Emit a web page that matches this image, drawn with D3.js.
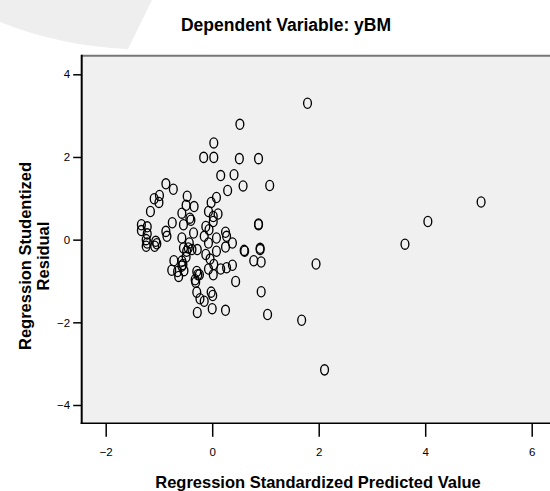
<!DOCTYPE html>
<html>
<head>
<meta charset="utf-8">
<script src="https://cdn.jsdelivr.net/npm/d3@7"></script>
<style>
  html, body { margin: 0; padding: 0; background: #ffffff; }
  svg { display: block; }
  text { font-family: "Liberation Sans", Arial, sans-serif; }
</style>
</head>
<body>
<svg id="chart" width="550" height="491"></svg>
<script>
// ---- data ----
const titleText = "Dependent Variable: yBM";
const xTitle = "Regression Standardized Predicted Value";
const yTitleLines = ["Regression Studentized", "Residual"];
const xTicks = [-2, 0, 2, 4, 6];
const yTicks = [-4, -2, 0, 2, 4];

const predicted = [
  1.79, 0.52, 0.03, -0.16, 0.03, 0.51, 0.87, 0.16, 0.41, 0.29,
  0.58, 1.08, -0.87, -0.73, -1.09, -0.99, -1.00, -1.16, -0.47, -0.49,
  -0.34, -0.57, -0.42, -0.40, -0.54, -0.75, 0.08, -0.02, -0.07, 0.11,
  0.02, 0.02, -0.12, -1.33, -1.22, 0.87, 0.87, 5.05, 4.05, 3.62,
  -1.33, -1.22, -1.24, -1.22, -1.24, -1.06, -1.08, -1.04, -0.87, -0.85,
  -0.35, -0.57, -0.54, -0.45, -0.48, -0.38, -0.28, -0.43, -0.49, -0.57,
  -0.72, -0.76, -0.65, -0.63, -0.53, -0.57, -0.29, -0.27, -0.24, -0.32,
  -0.31, -0.29, -0.23, -0.15, -0.28, -0.02, 0.01, 0.00, 0.25, -0.15,
  -0.06, -0.07, -0.12, -0.04, 0.03, -0.07, 0.02, 0.08, 0.08, 0.25,
  0.27, 0.25, 0.16, 0.27, 0.38, 0.38, 0.44, 0.60, 0.61, 0.90,
  0.90, 0.78, 0.92, 1.95, 0.92, 1.04, 1.68, 2.11, -0.55
];
const residual = [
  3.30, 2.79, 2.34, 1.99, 1.99, 1.96, 1.96, 1.55, 1.57, 1.19,
  1.30, 1.31, 1.35, 1.22, 0.99, 1.07, 0.90, 0.68, 1.05, 0.83,
  0.80, 0.64, 0.52, 0.47, 0.36, 0.41, 1.02, 0.90, 0.68, 0.62,
  0.56, 0.44, 0.32, 0.36, 0.31, 0.36, 0.38, 0.91, 0.44, -0.11,
  0.22, 0.14, 0.00, -0.08, -0.16, -0.04, -0.16, -0.10, 0.20, 0.08,
  0.16, 0.04, -0.20, -0.20, -0.28, -0.24, -0.24, -0.08, -0.42, -0.52,
  -0.51, -0.74, -0.77, -0.89, -0.75, -0.64, -0.77, -0.85, -0.85, -0.97,
  -1.03, -1.27, -1.43, -1.49, -1.76, -1.27, -1.35, -1.67, -1.71, 0.08,
  0.24, -0.08, -0.36, -0.47, -0.60, -0.71, -0.85, 0.04, -0.28, 0.18,
  0.08, -0.18, -0.71, -0.68, -0.62, -0.08, -1.01, -0.26, -0.28, -0.24,
  -0.21, -0.51, -0.54, -0.59, -1.26, -1.81, -1.95, -3.15, -0.60
];

// ---- layout ----
const plotLeft = 81.7, plotTop = 55.7, plotRight = 552, plotBottom = 423.3;

const svg = d3.select("#chart");

// faint watermark swoosh in top-left corner
svg.append("path")
  .attr("d", "M0,0 L0,22 Q60,46 128,49 L152,0 Z")
  .attr("fill", "#eeeeee");

const x = d3.scaleLinear().domain([-2, 6]).range([105.7, 531.7]);
const y = d3.scaleLinear().domain([-4, 4]).range([405, 74.3]);

// panel
svg.append("rect")
  .attr("x", plotLeft).attr("y", plotTop)
  .attr("width", plotRight - plotLeft).attr("height", plotBottom - plotTop)
  .attr("fill", "#f0f0f0");

// top border (grey)
svg.append("line")
  .attr("x1", plotLeft).attr("x2", plotRight)
  .attr("y1", plotTop).attr("y2", plotTop)
  .attr("stroke", "#777").attr("stroke-width", 2);

// points
const pts = predicted.map((p, i) => ({ p, r: residual[i] }));
svg.append("g")
  .selectAll("ellipse")
  .data(pts)
  .join("ellipse")
  .attr("cx", d => x(d.p))
  .attr("cy", d => y(d.r))
  .attr("rx", 3.9)
  .attr("ry", 5.1)
  .attr("fill", "none")
  .attr("stroke", "#000")
  .attr("stroke-width", 1.35);

// y axis
const yAxis = svg.append("g")
  .attr("transform", `translate(${plotLeft},0)`)
  .call(d3.axisLeft(y).tickValues(yTicks).tickSize(8.5).tickPadding(3).tickFormat(d3.format("d")));
yAxis.select(".domain").remove();
yAxis.selectAll(".tick line").attr("stroke", "#000").attr("stroke-width", 1.5);
yAxis.selectAll(".tick text")
  .attr("font-size", 11.5).attr("fill", "#000")
  .style("font-family", "'Liberation Sans', Arial, sans-serif");

// x axis
const xAxis = svg.append("g")
  .attr("transform", `translate(0,${plotBottom})`)
  .call(d3.axisBottom(x).tickValues(xTicks).tickSize(13.5).tickPadding(11).tickFormat(d3.format("d")));
xAxis.select(".domain").remove();
xAxis.selectAll(".tick line").attr("stroke", "#000").attr("stroke-width", 1.5);
xAxis.selectAll(".tick text")
  .attr("font-size", 11.5).attr("fill", "#000")
  .style("font-family", "'Liberation Sans', Arial, sans-serif");

// axis lines
svg.append("line")
  .attr("x1", plotLeft).attr("x2", plotLeft)
  .attr("y1", plotTop - 1).attr("y2", plotBottom + 0.8)
  .attr("stroke", "#000").attr("stroke-width", 2);
svg.append("line")
  .attr("x1", plotLeft - 1).attr("x2", plotRight)
  .attr("y1", plotBottom).attr("y2", plotBottom)
  .attr("stroke", "#000").attr("stroke-width", 1.6);

// title
svg.append("text")
  .attr("x", 286).attr("y", 31)
  .attr("text-anchor", "middle")
  .attr("font-size", 17.5).attr("font-weight", "bold")
  .text(titleText);

// x title
svg.append("text")
  .attr("x", 318).attr("y", 488)
  .attr("text-anchor", "middle")
  .attr("font-size", 16.5).attr("font-weight", "bold")
  .text(xTitle);

// y title
const yt = svg.append("text")
  .attr("transform", "translate(0,256) rotate(-90)")
  .attr("text-anchor", "middle")
  .attr("font-size", 16.5).attr("font-weight", "bold");
yt.selectAll("tspan")
  .data(yTitleLines)
  .join("tspan")
  .attr("x", 0)
  .attr("y", (d, i) => 31 + i * 18)
  .text(d => d);
</script>
</body>
</html>
